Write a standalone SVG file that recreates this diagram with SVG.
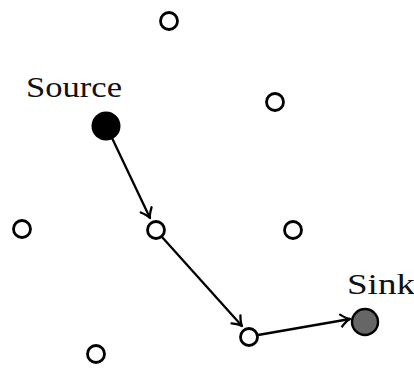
<svg xmlns="http://www.w3.org/2000/svg" width="414" height="370" viewBox="0 0 414 370">
  <style>
    .node { fill: #ffffff; stroke: #000000; stroke-width: 2.8; }
    .label { font-family: "Liberation Serif", "DejaVu Serif", serif; font-size: 29px; fill: #111111; }
    .edge { fill: none; stroke: #000000; stroke-width: 2.3; }
    .tip { fill: none; stroke: #000000; stroke-width: 2.3; stroke-linecap: round; stroke-linejoin: round; }
  </style>
  <defs>
    <marker id="arrow" viewBox="-11 -8 13 16" markerWidth="13" markerHeight="16" refX="0" refY="0" orient="auto" markerUnits="userSpaceOnUse">
      <path class="tip" d="M -9 -6 Q -3.5 -1 0 0 Q -3.5 1 -9 6"/>
    </marker>
  </defs>
  <rect width="414" height="370" fill="#ffffff"/>

  <g id="edges">
    <line class="edge" x1="112" y1="138" x2="150" y2="218" marker-end="url(#arrow)"/>
    <line class="edge" x1="162" y1="237" x2="242" y2="326" marker-end="url(#arrow)"/>
    <line class="edge" x1="258" y1="335" x2="350" y2="319" marker-end="url(#arrow)"/>
  </g>

  <g id="n-top"><circle class="node" cx="169" cy="21" r="8.5"/></g>
  <g id="n-source">
    <circle cx="106" cy="126" r="14.5" fill="#000000"/>
    <text class="label" x="26" y="97" textLength="96" lengthAdjust="spacingAndGlyphs">Source</text>
  </g>
  <g id="n-upper-right"><circle class="node" cx="275" cy="102" r="8.5"/></g>
  <g id="n-left"><circle class="node" cx="22" cy="229" r="8.5"/></g>
  <g id="n-middle"><circle class="node" cx="156" cy="230" r="8.5"/></g>
  <g id="n-right"><circle class="node" cx="293" cy="230" r="8.5"/></g>
  <g id="n-bottom"><circle class="node" cx="249" cy="337" r="8.5"/></g>
  <g id="n-bottom-left"><circle class="node" cx="96" cy="354" r="8.5"/></g>
  <g id="n-sink">
    <circle cx="365" cy="322" r="13" fill="#666666" stroke="#000000" stroke-width="2.4"/>
    <text class="label" x="347" y="294" textLength="68" lengthAdjust="spacingAndGlyphs">Sink</text>
  </g>
</svg>
